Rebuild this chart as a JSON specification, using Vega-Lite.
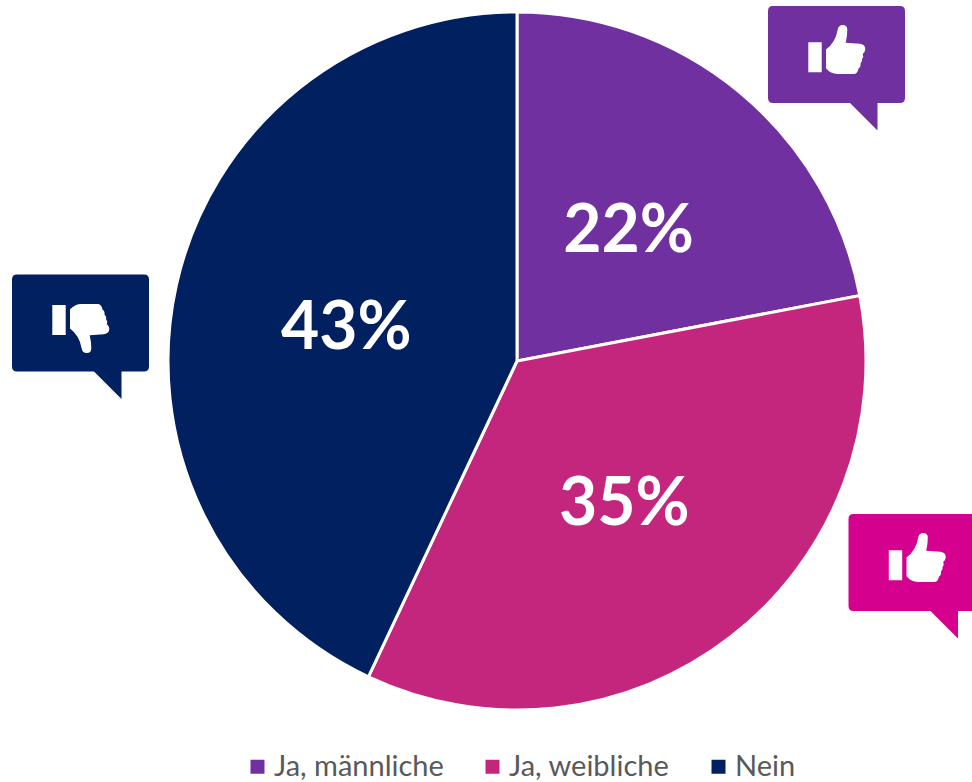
{
"$schema":"https://vega.github.io/schema/vega-lite/v6.json",
"width":972,"height":782,"padding":0,"autosize":{"type":"none"},
"background":"white",
"config":{"view":{"stroke":null}},
"data":{"values":[
{"Antwort":"Ja, männliche","Anteil":22,"Rang":1,"Label":"22%"},
{"Antwort":"Ja, weibliche","Anteil":35,"Rang":2,"Label":"35%"},
{"Antwort":"Nein","Anteil":43,"Rang":3,"Label":"43%"}]},
"layer":[
{"mark":{"type":"arc","radius":349,"stroke":"white","strokeWidth":3},
"encoding":{
"x":{"datum":517,"scale":{"domain":[0,972],"range":[0,972],"nice":false,"zero":false},"axis":null},
"y":{"datum":361,"scale":{"domain":[0,782],"range":[0,782],"nice":false,"zero":false},"axis":null},
"theta":{"field":"Anteil","type":"quantitative","stack":true,"scale":{"domain":[0,100],"range":[0,6.2831853]}},
"order":{"field":"Rang","type":"ordinal"},
"color":{"field":"Antwort","type":"nominal","scale":{"domain":["Ja, männliche","Ja, weibliche","Nein"],"range":["#7030A0","#C5267D","#002060"]},
"legend":{"title":null,"orient":"none","legendX":243,"legendY":752,"direction":"horizontal","symbolType":"square","symbolSize":196,"symbolStrokeWidth":0,"labelFont":"Lato","labelFontSize":29,"labelColor":"#595959","labelLimit":300,"columnPadding":34,"labelOffset":2,"symbolOpacity":1}}}},
{"mark":{"type":"text","radius":175,"dy":6,"font":"Lato","fontWeight":"bold","fontSize":66,"fill":"white","align":"center","baseline":"middle"},
"encoding":{
"x":{"datum":517},"y":{"datum":361},
"theta":{"field":"Anteil","type":"quantitative","stack":true},
"order":{"field":"Rang","type":"ordinal"},
"detail":{"field":"Antwort"},
"text":{"field":"Label"}}},
{"data":{"values":[{"Sprechblase":"Ja, männliche"}]},"mark":{"type":"point","filled":true,"size":40000,"opacity":1,"fill":"#7030A0","strokeWidth":0,"shape":"M-.635 -.485H.635Q.685 -.485 .685 -.435V.435Q.685 .485 .635 .485H.41V.76L.135 .485H-.635Q-.685 .485 -.685 .435V-.435Q-.685 -.485 -.635 -.485Z"},"encoding":{"x":{"datum":836.5},"y":{"datum":54.5}}},
{"data":{"values":[{"Sprechblase":"Ja, männliche"}]},"mark":{"type":"point","filled":true,"size":40000,"opacity":1,"fill":"white","strokeWidth":0,"shape":"M-.282 -.122H-.148V.178H-.282ZM-.105 -.05Q-.01 -.12 .012 -.25Q.02 -.295 .062 -.295Q.108 -.295 .108 -.25Q.108 -.18 .092 -.118L.235 -.108Q.29 -.1 .288 -.052Q.285 -.02 .262 -.005Q.275 .02 .255 .045Q.262 .07 .24 .09Q.245 .125 .22 .14Q.21 .195 .17 .195H.01Q-.06 .195 -.105 .138Z"},"encoding":{"x":{"datum":836.5},"y":{"datum":54.5}}},
{"data":{"values":[{"Sprechblase":"Nein"}]},"mark":{"type":"point","filled":true,"size":40000,"opacity":1,"fill":"#002060","strokeWidth":0,"shape":"M-.635 -.485H.635Q.685 -.485 .685 -.435V.435Q.685 .485 .635 .485H.41V.76L.135 .485H-.635Q-.685 .485 -.685 .435V-.435Q-.685 -.485 -.635 -.485Z"},"encoding":{"x":{"datum":80.5},"y":{"datum":323}}},
{"data":{"values":[{"Sprechblase":"Nein"}]},"mark":{"type":"point","filled":true,"size":40000,"opacity":1,"fill":"white","strokeWidth":0,"shape":"M-.282 -.18H-.148V.12H-.282ZM-.105 .054Q-.01 .124 .012 .254Q.02 .299 .062 .299Q.108 .299 .108 .254Q.108 .184 .092 .122L.235 .112Q.29 .104 .288 .056Q.285 .024 .262 .009Q.275 -.016 .255 -.041Q.262 -.066 .24 -.086Q.245 -.121 .22 -.136Q.21 -.191 .17 -.191H.01Q-.06 -.191 -.105 -.134Z"},"encoding":{"x":{"datum":80.5},"y":{"datum":323}}},
{"data":{"values":[{"Sprechblase":"Ja, weibliche"}]},"mark":{"type":"point","filled":true,"size":40000,"opacity":1,"fill":"#D6008F","strokeWidth":0,"shape":"M-.635 -.485H.635Q.685 -.485 .685 -.435V.435Q.685 .485 .635 .485H.41V.76L.135 .485H-.635Q-.685 .485 -.685 .435V-.435Q-.685 -.485 -.635 -.485Z"},"encoding":{"x":{"datum":917},"y":{"datum":562.5}}},
{"data":{"values":[{"Sprechblase":"Ja, weibliche"}]},"mark":{"type":"point","filled":true,"size":40000,"opacity":1,"fill":"white","strokeWidth":0,"shape":"M-.282 -.122H-.148V.178H-.282ZM-.105 -.05Q-.01 -.12 .012 -.25Q.02 -.295 .062 -.295Q.108 -.295 .108 -.25Q.108 -.18 .092 -.118L.235 -.108Q.29 -.1 .288 -.052Q.285 -.02 .262 -.005Q.275 .02 .255 .045Q.262 .07 .24 .09Q.245 .125 .22 .14Q.21 .195 .17 .195H.01Q-.06 .195 -.105 .138Z"},"encoding":{"x":{"datum":917},"y":{"datum":562.5}}}
]}
